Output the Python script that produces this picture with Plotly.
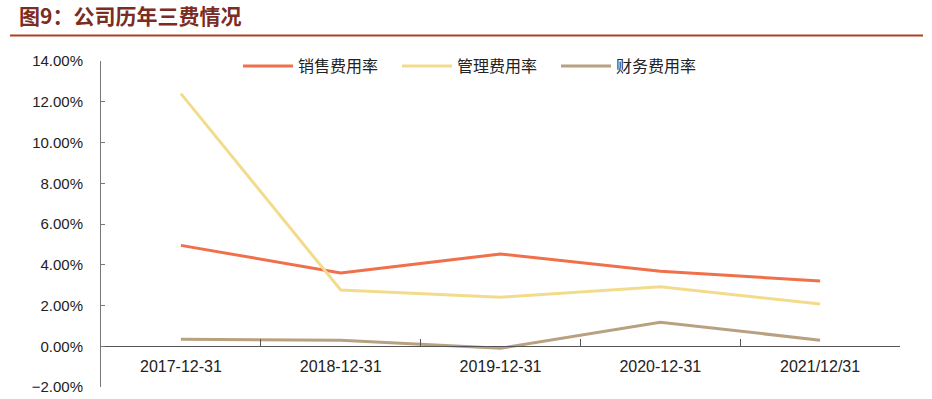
import plotly.graph_objects as go

categories = ["2017-12-31", "2018-12-31", "2019-12-31", "2020-12-31", "2021/12/31"]
series_names = ["销售费用率", "管理费用率", "财务费用率"]
sales_rate = [0.0495, 0.0360, 0.0453, 0.0368, 0.0320]
admin_rate = [0.1240, 0.0276, 0.0241, 0.0292, 0.0207]
finance_rate = [0.0034, 0.0030, -0.0010, 0.0118, 0.0030]
colors = ["#EF704A", "#F2DC8C", "#B8A181"]

W, H = 932, 399
L, R, T, B = 101, 32, 61, 12
pw = W - L - R
ph = H - T - B

fig = go.Figure()
for name, vals, c in zip(series_names, [sales_rate, admin_rate, finance_rate], colors):
    fig.add_trace(go.Scatter(x=categories, y=vals, name=name, mode="lines",
                             line=dict(color=c, width=3)))

ymin, ymax = -0.02, 0.14
zero_frac = (0 - ymin) / (ymax - ymin)

def px_x(x):
    return (x - L) / pw

def px_y(y):
    return (H - B - y) / ph

fig.update_layout(
    width=W, height=H,
    margin=dict(l=L, r=R, t=T, b=B, autoexpand=False),
    paper_bgcolor="white", plot_bgcolor="white",
    showlegend=True,
    legend=dict(orientation="h", x=px_x(238), y=px_y(66), xanchor="left", yanchor="middle",
                entrywidth=94, entrywidthmode="pixels", itemwidth=50,
                font=dict(family="Noto Sans CJK SC", size=16, color="#222"),
                bgcolor="rgba(0,0,0,0)"),
    title=dict(text="<b>图9：公司历年三费情况</b>", x=19 / W, xanchor="left", y=1 - 17 / H, yanchor="middle",
               font=dict(family="Noto Sans CJK SC", size=21, color="#7B2C23")),
    xaxis=dict(type="category", anchor="free", position=zero_frac,
               showline=True, linecolor="#555", linewidth=1,
               ticks="inside", tickson="boundaries", ticklen=7, tickcolor="#555",
               showgrid=False, zeroline=False, ticklabelstandoff=6,
               tickfont=dict(family="Liberation Sans", size=16, color="#222"),
               range=[-0.5, 4.5]),
    yaxis=dict(range=[ymin, ymax], dtick=0.02, tickformat=".2%",
               showline=True, linecolor="#777", linewidth=1,
               ticks="inside", ticklen=4, tickcolor="#777",
               showgrid=False, zeroline=False, ticklabelstandoff=14,
               tickfont=dict(family="Liberation Sans", size=15, color="#222")),
)

fig.add_shape(type="line", xref="paper", yref="paper",
              x0=px_x(10), x1=px_x(923), y0=px_y(35.5), y1=px_y(35.5),
              line=dict(color="#B0401C", width=2))

fig.write_html("out.html", config={"displayModeBar": False},
               post_script="document.body.style.margin='0';document.body.style.overflow='hidden';")
